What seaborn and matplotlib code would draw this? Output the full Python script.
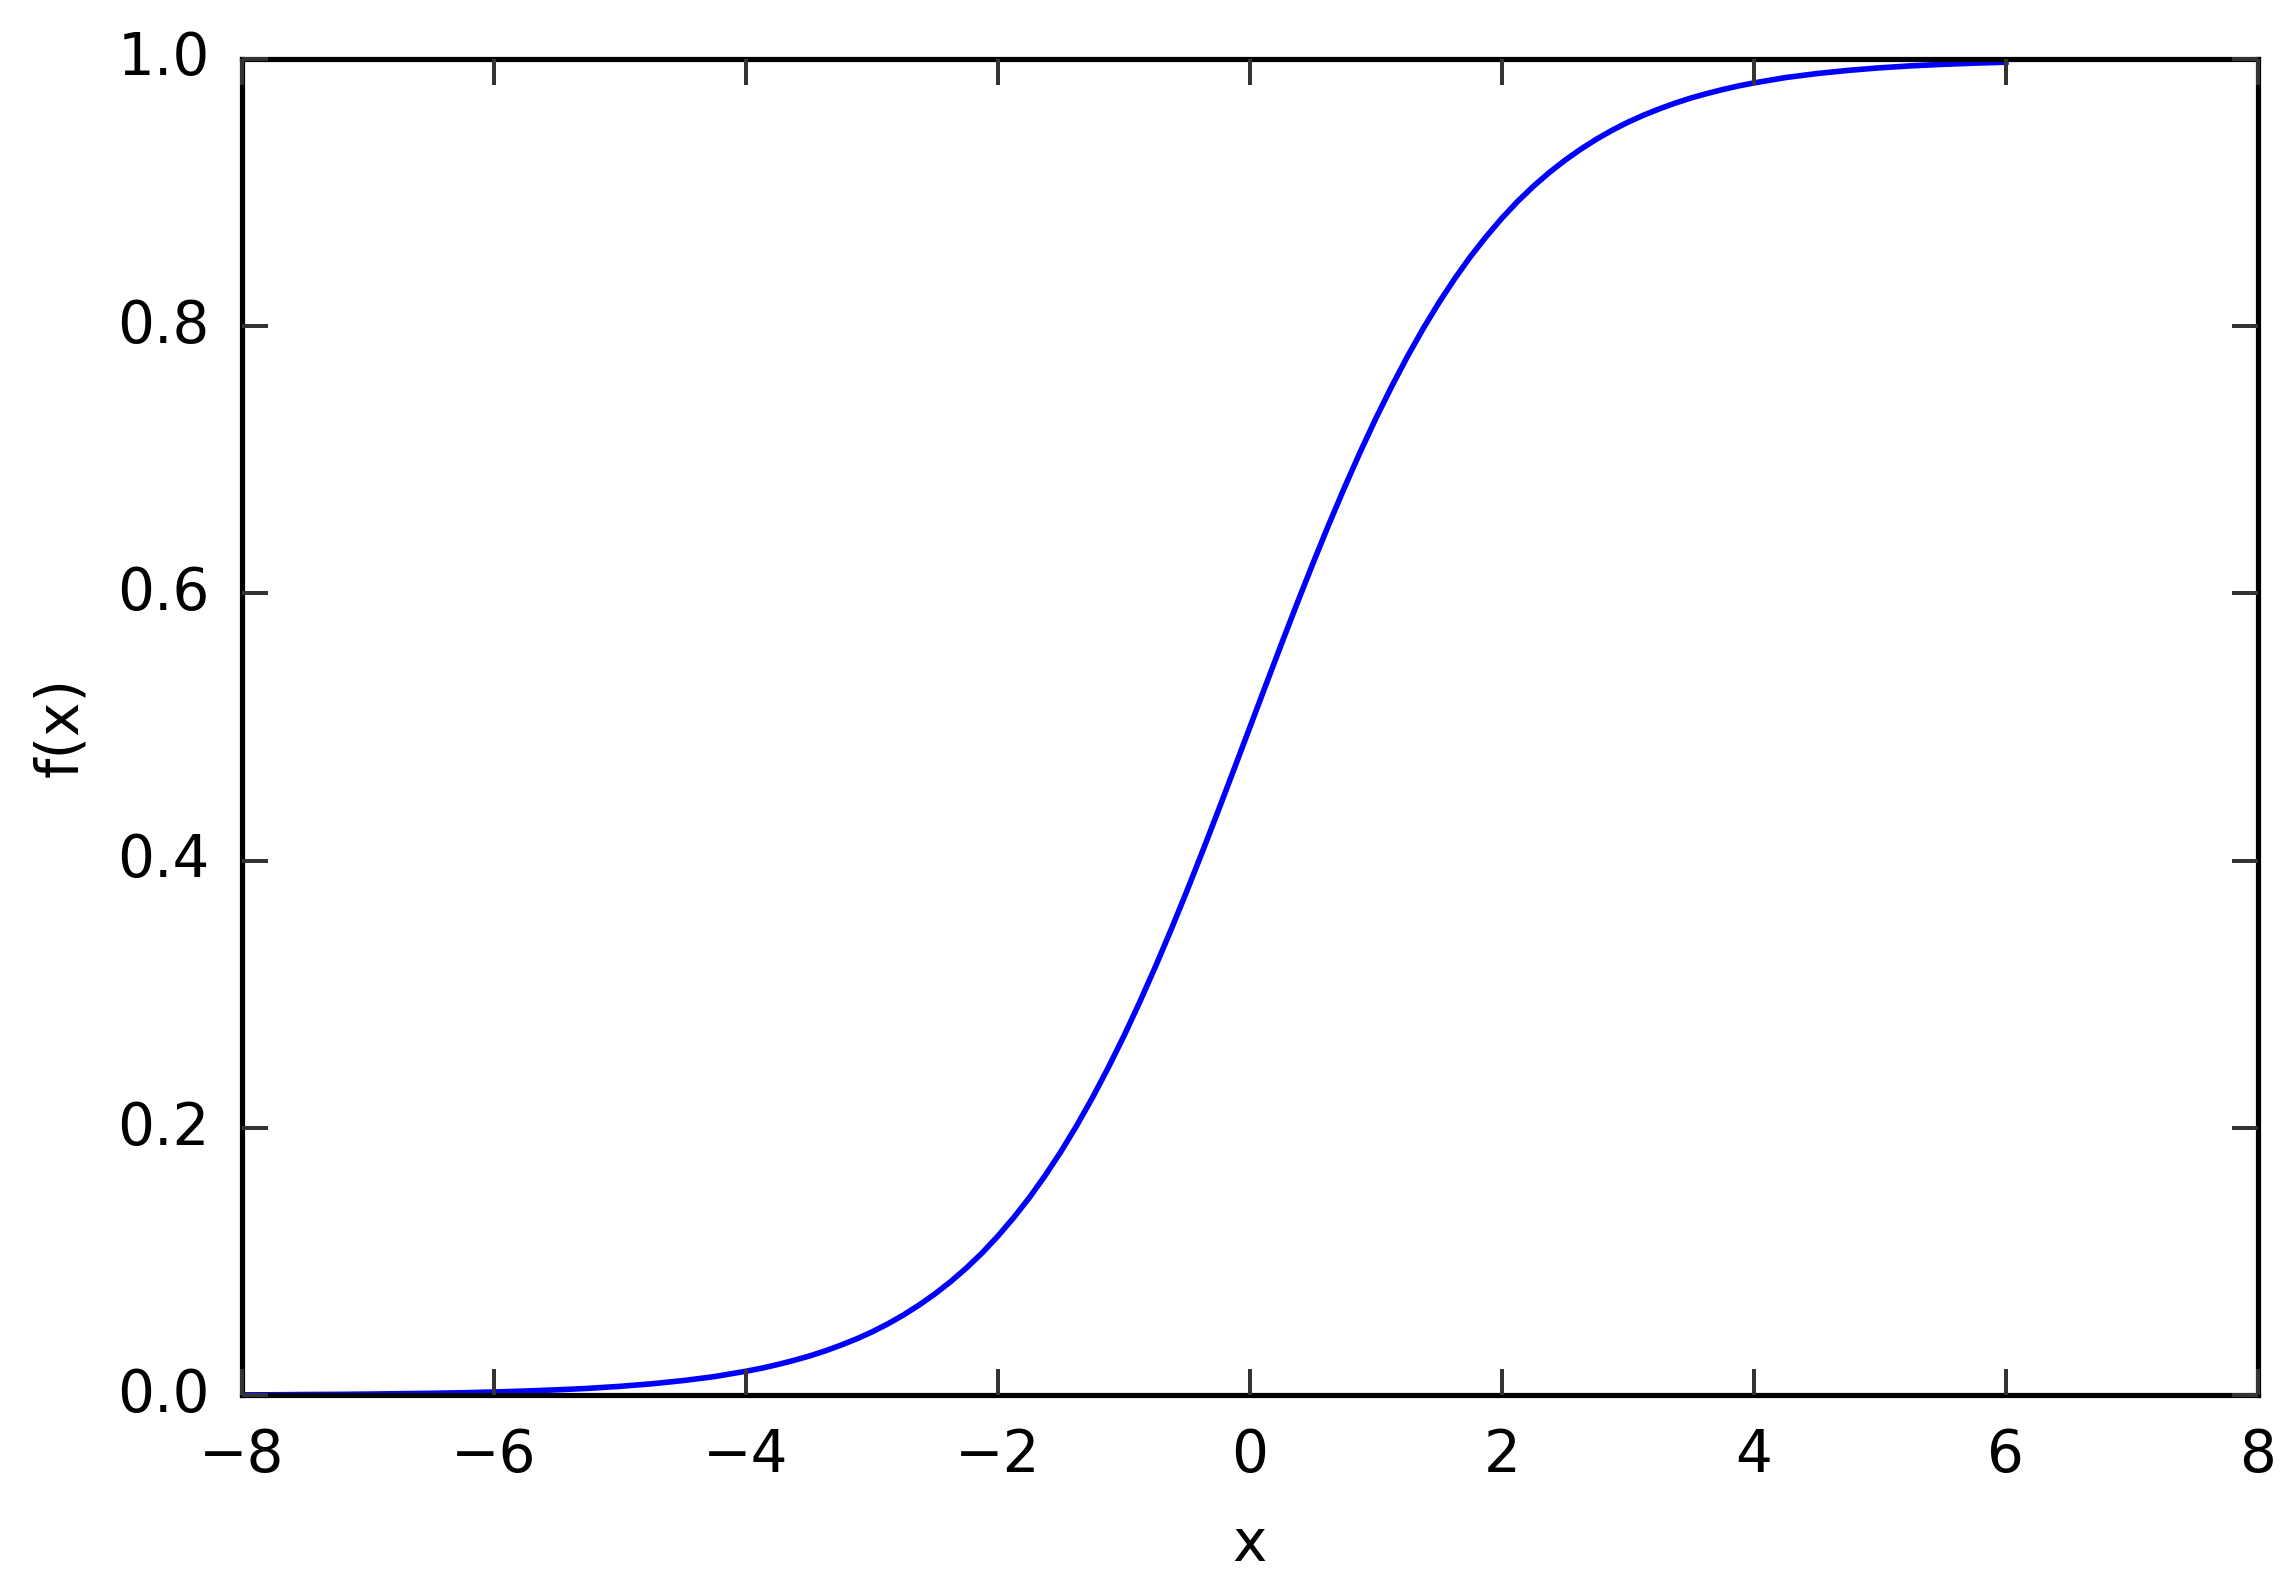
#!/usr/bin/env python3
import matplotlib
matplotlib.use("Agg")
import pandas as pd
import seaborn as sns
from matplotlib import pyplot as plt

# values
x_vals = [-8.00, -7.75, -7.50, -7.25, -7.00, -6.75, -6.50, -6.25, -6.00, -5.75,
          -5.50, -5.25, -5.00, -4.75, -4.50, -4.25,
          -4.000, -3.875, -3.750, -3.625, -3.500, -3.375, -3.250, -3.125,
          -3.000, -2.875, -2.750, -2.625, -2.500, -2.375, -2.250, -2.125,
          -2.000, -1.875, -1.750, -1.625, -1.500, -1.375, -1.250, -1.125,
          -1.000, -0.875, -0.750, -0.625, -0.500, -0.375, -0.250, -0.125,
          0.000, 0.125, 0.250, 0.375, 0.500, 0.625, 0.750, 0.875,
          1.000, 1.125, 1.250, 1.375, 1.500, 1.625, 1.750, 1.875,
          2.000, 2.125, 2.250, 2.375, 2.500, 2.625, 2.750, 2.875,
          3.000, 3.125, 3.250, 3.375, 3.500, 3.625, 3.750, 3.875,
          4.00, 4.25, 4.50, 4.75, 5.00, 5.25, 5.50, 5.75, 6.00]
fx_vals = [0.0003, 0.0004, 0.0006, 0.0007, 0.0009, 0.0012, 0.0015, 0.0019, 0.0025, 0.0032,
           0.0041, 0.0052, 0.0067, 0.0086, 0.0110, 0.0140,
           0.0180, 0.0203, 0.0230, 0.0260, 0.0293, 0.0331, 0.0374, 0.0421,
           0.0474, 0.0534, 0.0601, 0.0676, 0.0759, 0.0851, 0.0953, 0.1066,
           0.1192, 0.1330, 0.1480, 0.1645, 0.1824, 0.2018, 0.2227, 0.2451,
           0.2689, 0.2942, 0.3208, 0.3486, 0.3775, 0.4073, 0.4378, 0.4688,
           0.5000, 0.5312, 0.5622, 0.5927, 0.6225, 0.6514, 0.6792, 0.7058,
           0.7311, 0.7549, 0.7773, 0.7982, 0.8176, 0.8355, 0.8520, 0.8670,
           0.8808, 0.8934, 0.9047, 0.9149, 0.9241, 0.9324, 0.9399, 0.9466,
           0.9526, 0.9579, 0.9626, 0.9669, 0.9707, 0.9740, 0.9770, 0.9797,
           0.9820, 0.9860, 0.9890, 0.9914, 0.9933, 0.9948, 0.9959, 0.9968, 0.9975]
x_ticks = [-8, -6, -4, -2, 0, 2, 4, 6, 8]
y_ticks = [0.0, 0.2, 0.4, 0.6, 0.8, 1.0]


def main():
    plt.style.use("classic")
    plt.rcParams.update({
        "figure.facecolor": "white",
        "savefig.facecolor": "white",
        "font.size": 14.5,
        "axes.linewidth": 1.3,
        "xtick.major.size": 6.5,
        "ytick.major.size": 6.5,
        "xtick.major.width": 1.0,
        "ytick.major.width": 1.0,
        "xtick.major.pad": 8,
        "ytick.major.pad": 8,
    })

    df = pd.DataFrame({"x": x_vals, "f(x)": fx_vals})

    fig = plt.figure(figsize=(2296 / 288, 1591 / 288), dpi=288)
    ax = fig.add_axes([0.1054, 0.123, 0.878, 0.840])
    sns.lineplot(data=df, x="x", y="f(x)", color="#0000ff", linewidth=1.4, ax=ax)

    ax.set_xlim(-8, 8)
    ax.set_ylim(0, 1)
    ax.set_xticks(x_ticks)
    ax.set_yticks(y_ticks)
    ax.tick_params(colors="#333333", labelcolor="black")
    ax.set_xlabel("x", labelpad=8)
    ax.set_ylabel("f(x)", labelpad=7)
    fig.savefig("out.png", dpi=288)
    plt.close(fig)


if __name__ == "__main__":
    main()
